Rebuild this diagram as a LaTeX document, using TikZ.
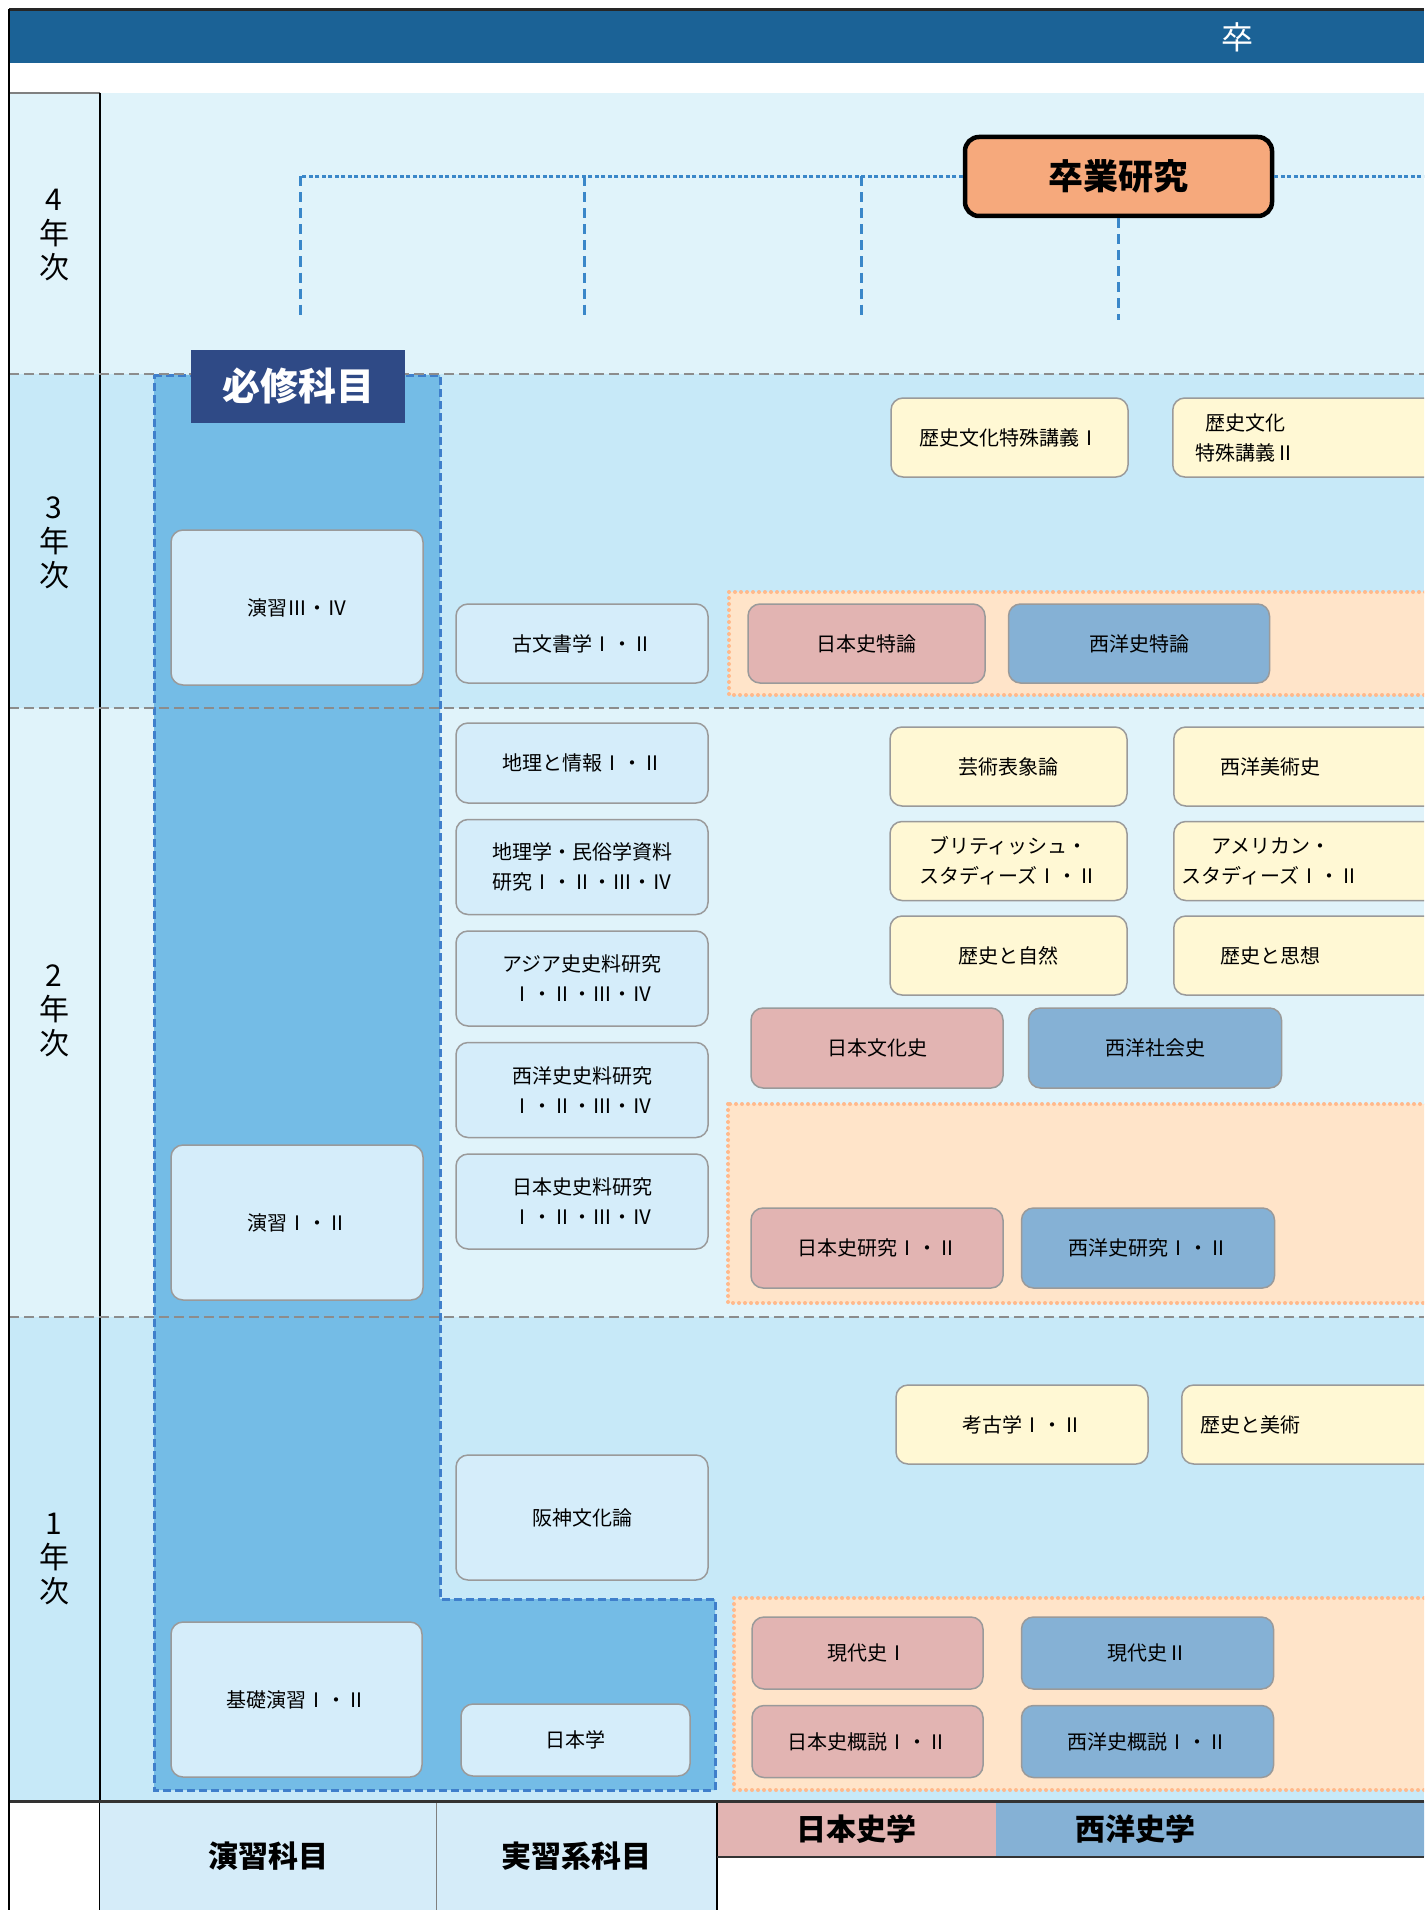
\documentclass[tikz,border=0pt]{standalone}
\usepackage{fontspec}
\setmainfont{Noto Sans CJK JP}
\usetikzlibrary{positioning}
\definecolor{head}{HTML}{1B6296}
\definecolor{bandL}{HTML}{E0F3FA}
\definecolor{bandM}{HTML}{C7E9F8}
\definecolor{req}{HTML}{74BCE6}
\definecolor{reqline}{HTML}{3F7FCB}
\definecolor{lbox}{HTML}{D5EDFA}
\definecolor{ybox}{HTML}{FFF8D4}
\definecolor{jbox}{HTML}{E2B4B2}
\definecolor{wbox}{HTML}{85B1D5}
\definecolor{orarea}{HTML}{FFE4C9}
\definecolor{ordot}{HTML}{FFB98C}
\definecolor{boxline}{HTML}{9A9A9A}
\definecolor{sepgray}{HTML}{8C8C8C}
\definecolor{sotsuc}{HTML}{F6A97C}
\definecolor{navy}{HTML}{2F4A86}
\definecolor{conn}{HTML}{3A87C9}
\definecolor{cellc}{HTML}{D5ECF9}
\begin{document}
\begin{tikzpicture}[x=1pt, y=1pt,
    subj/.style={draw=boxline, line width=1.5pt, rounded corners=12pt, align=center, inner sep=0pt, font=\fontsize{20}{30}\selectfont},
    lb/.style={subj, fill=lbox},
    yb/.style={subj, fill=ybox},
    jb/.style={subj, fill=jbox},
    wb/.style={subj, fill=wbox},
    cut/.style={anchor=west, minimum width=268, minimum height=79},
    lab/.style={align=center, font=\fontsize{20}{30}\selectfont},
    hline/.style={draw=conn, line width=3.5pt, dash pattern=on 4pt off 2.5pt},
    vline/.style={draw=conn, line width=3pt, dash pattern=on 10pt off 6pt},
    sep/.style={draw=sepgray, line width=2.5pt, dash pattern=on 10pt off 5pt},
    area/.style={fill=orarea, draw=ordot, line width=4pt, line cap=round, dash pattern=on 0pt off 6pt},
    year/.style={align=center, font=\fontsize{30}{34}\selectfont},
    cell/.style={anchor=north west, inner sep=0pt, font=\fontsize{30}{30}\selectfont\bfseries},
    celltxt/.style={font=\fontsize{30}{30}\selectfont\bfseries}]
    \useasboundingbox (0,0) rectangle (1424,-1910);
    \clip (0,0) rectangle (1424,-1910);
    \fill[head] (9,-10) rectangle (1424,-63);
    \draw[line width=3pt, black!85] (9,-9.5) -- (1424,-9.5);
    \node[text=white, font=\fontsize{32}{32}\selectfont] (sotsuT) at (1237,-37) {卒};
    \fill[bandL] (9,-93) rectangle (1424,-374);
    \fill[bandM] (9,-374) rectangle (1424,-708);
    \fill[bandL] (9,-708) rectangle (1424,-1317);
    \fill[bandM] (9,-1317) rectangle (1424,-1801);
    \draw[line width=2pt, gray] (9,-93) -- (100,-93);
    \draw[line width=1.2pt] (100,-93) -- (100,-1910);
    \draw[fill=req, draw=reqline, line width=3pt, dash pattern=on 8pt off 4pt] (154,-375) -- (440,-375) -- (440,-1599) -- (715,-1599) -- (715,-1790) -- (154,-1790) -- cycle;
    \draw[area] (729,-592) rectangle (1445,-695);
    \draw[area] (728,-1104) rectangle (1445,-1303);
    \draw[area] (734,-1598) rectangle (1445,-1790);
    \draw[sep] (9,-374) -- (1424,-374);
    \draw[sep] (9,-708) -- (1424,-708);
    \draw[sep] (9,-1317) -- (1424,-1317);

    \node[year] (y4) at (54,-235) {4\\年\\次};
    \node[year] (y3) at (54,-543) {3\\年\\次};
    \node[year] (y2) at (54,-1011) {2\\年\\次};
    \node[year] (y1) at (54,-1559) {1\\年\\次};

    \node[draw=black, line width=4.5pt, fill=sotsuc, rounded corners=14pt, minimum width=307, minimum height=79, inner sep=0pt, font=\fontsize{35}{35}\selectfont\bfseries] (sotsu) at (1118.5,-176.5) {卒業研究};
    \node[fill=navy, text=white, minimum width=214, minimum height=73, inner sep=0pt, font=\fontsize{38}{38}\selectfont\bfseries] (hisshu) at (298,-386.5) {必修科目};

    \node[lb, minimum width=252, minimum height=155] (en34) at (297,-607.5) {演習Ⅲ・Ⅳ};
    \node[lb, minimum width=252, minimum height=155] (en12) at (297,-1222.5) {演習Ⅰ・Ⅱ};
    \node[lb, minimum width=251, minimum height=155] (kiso) at (296.5,-1699.5) {基礎演習Ⅰ・Ⅱ};
    \node[lb, minimum width=229, minimum height=72] (nihon) at (575.5,-1740) {日本学};

    \node[lb, minimum width=252, minimum height=79] (komon) at (582,-643.5) {古文書学Ⅰ・Ⅱ};
    \node[lb, minimum width=252, minimum height=80] (chiri) at (582,-763) {地理と情報Ⅰ・Ⅱ};
    \node[lb, minimum width=252, minimum height=95, below=15pt of chiri] (minzoku) {地理学・民俗学資料\\研究Ⅰ・Ⅱ・Ⅲ・Ⅳ};
    \node[lb, minimum width=252, minimum height=95, below=15pt of minzoku] (asia) {アジア史史料研究\\Ⅰ・Ⅱ・Ⅲ・Ⅳ};
    \node[lb, minimum width=252, minimum height=95, below=15pt of asia] (seishi) {西洋史史料研究\\Ⅰ・Ⅱ・Ⅲ・Ⅳ};
    \node[lb, minimum width=252, minimum height=95, below=15pt of seishi] (nisshi) {日本史史料研究\\Ⅰ・Ⅱ・Ⅲ・Ⅳ};
    \node[lb, minimum width=252, minimum height=125] (hanshin) at (582,-1517.5) {阪神文化論};

    \node[yb, minimum width=237, minimum height=79] (tok1) at (1009.5,-437.5) {歴史文化特殊講義Ⅰ};
    \node[yb, cut, label={[lab, xshift=-61]center:歴史文化\\特殊講義Ⅱ}] (tok2) at (1172,-437.5) {};
    \node[yb, minimum width=237, minimum height=79] (geijutsu) at (1008.5,-766.5) {芸術表象論};
    \node[yb, minimum width=237, minimum height=79, below=14pt of geijutsu] (british) {ブリティッシュ・\\スタディーズⅠ・Ⅱ};
    \node[yb, minimum width=237, minimum height=79, below=14pt of british] (shizen) {歴史と自然};
    \node[yb, cut, label={[lab, xshift=-37]center:西洋美術史}] (seibi) at (1173,-766.5) {};
    \node[yb, cut, below=14pt of seibi, label={[lab, xshift=-37]center:アメリカン・\\スタディーズⅠ・Ⅱ}] (america) {};
    \node[yb, cut, below=14pt of america, label={[lab, xshift=-37]center:歴史と思想}] (shiso) {};
    \node[yb, minimum width=252, minimum height=79] (kouko) at (1022,-1424.5) {考古学Ⅰ・Ⅱ};
    \node[yb, cut, label={[lab, xshift=-65]center:歴史と美術}] (bijutsu) at (1181,-1424.5) {};

    \node[jb, minimum width=237, minimum height=79] (jtok) at (866.5,-643.5) {日本史特論};
    \node[wb, minimum width=261, minimum height=79, right=22pt of jtok] (wtok) {西洋史特論};
    \node[jb, minimum width=252, minimum height=80] (jbun) at (877,-1048) {日本文化史};
    \node[wb, minimum width=253, minimum height=80, right=24pt of jbun] (wsha) {西洋社会史};
    \node[jb, minimum width=252, minimum height=80] (jken) at (877,-1248) {日本史研究Ⅰ・Ⅱ};
    \node[wb, minimum width=253, minimum height=80, right=17pt of jken] (wken) {西洋史研究Ⅰ・Ⅱ};
    \node[jb, minimum width=231, minimum height=72] (gen1) at (867.5,-1653) {現代史Ⅰ};
    \node[wb, minimum width=252, minimum height=72, right=37pt of gen1] (gen2) {現代史Ⅱ};
    \node[jb, minimum width=231, minimum height=72, below=15pt of gen1] (jgai) {日本史概説Ⅰ・Ⅱ};
    \node[wb, minimum width=252, minimum height=72, below=15pt of gen2] (wgai) {西洋史概説Ⅰ・Ⅱ};

    \node[cell, fill=cellc, minimum width=336, minimum height=109] (c1) at (100,-1801) {演習科目};
    \node[cell, fill=cellc, minimum width=281, minimum height=109] (c2) at (436,-1801) {実習系科目};
    \node[cell, fill=jbox, minimum width=279, minimum height=56] (c3) at (717,-1801) {日本史学};
    \node[cell, fill=wbox, minimum width=444, minimum height=56, label={[celltxt, xshift=-83]center:西洋史学}] (c4) at (996,-1801) {};
    \draw[gray, line width=1pt] (436,-1801) -- (436,-1910);
    \draw[line width=1.5pt] (717,-1801) -- (717,-1910);
    \draw[line width=2.5pt, black!80] (717,-1857) -- (1424,-1857);
    \draw[line width=3pt, black!80] (9,-1801) -- (1424,-1801);
    \draw[line width=2.5pt] (9,-9) -- (9,-1910);

    \coordinate (d1) at (300,-320);
    \coordinate (d2) at (584,-320);
    \coordinate (d3) at (861,-320);
    \coordinate (d4) at (1118.5,-320);
    \coordinate (rend) at (1424,-176.5);
    \path
    (sotsu.west) edge[hline] (d1 |- sotsu.west)
    (sotsu.east) edge[hline] (rend)
    (d1 |- sotsu.west) edge[vline] (d1)
    (d2 |- sotsu.west) edge[vline] (d2)
    (d3 |- sotsu.west) edge[vline] (d3)
    (sotsu.south) edge[vline] (d4);
\end{tikzpicture}
\end{document}
